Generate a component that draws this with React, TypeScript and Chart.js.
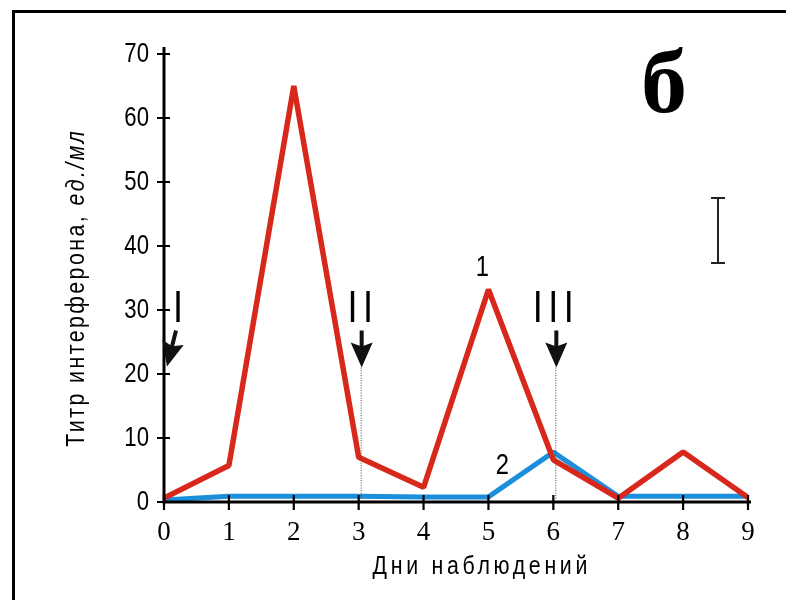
import React, { useEffect, useRef } from "react";
import { Chart, registerables } from "chart.js";

Chart.register(...registerables);

// ---- data ----
const days = [0, 1, 2, 3, 4, 5, 6, 7, 8, 9];
const series1 = [0.6, 5.7, 65, 7.0, 2.3, 33.2, 6.6, 0.6, 7.8, 0.7];
const series2 = [0.3, 0.9, 0.9, 0.9, 0.8, 0.8, 7.8, 0.9, 0.9, 0.9];
const seriesNames = ["1", "2"];
const yTicks = [0, 10, 20, 30, 40, 50, 60, 70];
const xTicks = [0, 1, 2, 3, 4, 5, 6, 7, 8, 9];
const interventionDays = [0, 3, 6];
const interventionLabels = ["I", "II", "III"];
const panelLetter = "б";
const yTitleMain = "Титр интерферона, ";
const yTitleUnit = "ед./мл";
const xTitle = "Дни наблюдений";

const RED = "#d8281c";
const BLUE = "#1b8fdb";
const SANS = "'Liberation Sans', Arial, sans-serif";
const SERIF = "'Liberation Serif', 'DejaVu Serif', serif";
const SX = 0.82; // horizontal condensing to imitate a narrow face

function narrowText(
  ctx: CanvasRenderingContext2D,
  text: string,
  x: number,
  y: number,
  font: string,
  align: "left" | "center" | "right",
  spacing = 0,
  baseline: CanvasTextBaseline = "alphabetic"
) {
  ctx.save();
  ctx.translate(x, y);
  ctx.scale(SX, 1);
  ctx.font = font;
  (ctx as any).letterSpacing = `${spacing}px`;
  ctx.textAlign = "left";
  ctx.textBaseline = baseline;
  const w = ctx.measureText(text).width - spacing;
  const off = align === "left" ? 0 : align === "center" ? -w / 2 : -w;
  ctx.fillText(text, off, 0);
  ctx.restore();
  return w * SX;
}

const decorPlugin = {
  id: "decor",
  afterDraw(chart: any) {
    const ctx = chart.ctx as CanvasRenderingContext2D;
    const xs = chart.scales.x;
    const ys = chart.scales.y;
    const area = chart.chartArea;
    ctx.save();

    // frame (top and left edges visible)
    ctx.strokeStyle = "#000";
    ctx.lineWidth = 3;
    ctx.beginPath();
    ctx.moveTo(13.5, 700);
    ctx.lineTo(13.5, 11.5);
    ctx.lineTo(900, 11.5);
    ctx.stroke();

    // axes
    ctx.lineWidth = 3;
    ctx.beginPath();
    ctx.moveTo(area.left, area.top - 7);
    ctx.lineTo(area.left, area.bottom + 1.5);
    ctx.moveTo(area.left - 1.5, area.bottom);
    ctx.lineTo(area.right + 3, area.bottom);
    ctx.stroke();
    ctx.lineWidth = 2.2;
    ctx.beginPath();
    yTicks.forEach((v) => {
      const y = ys.getPixelForValue(v);
      ctx.moveTo(area.left - 7, y);
      ctx.lineTo(area.left + 6, y);
    });
    xTicks.forEach((v) => {
      const x = xs.getPixelForValue(v);
      ctx.moveTo(x, area.bottom - 7);
      ctx.lineTo(x, area.bottom + 8);
    });
    ctx.stroke();

    ctx.fillStyle = "#000";
    // y tick labels
    ys.ticks.forEach((t: any) => {
      narrowText(ctx, String(t.value), area.left - 15, ys.getPixelForValue(t.value) + 1, `27px ${SANS}`, "right", 0, "middle");
    });

    // y title (regular + italic unit)
    ctx.save();
    ctx.translate(84, 289);
    ctx.rotate(-Math.PI / 2);
    ctx.font = `26px ${SANS}`;
    (ctx as any).letterSpacing = "3px";
    const w1 = ctx.measureText(yTitleMain).width * SX;
    ctx.font = `italic 26px ${SANS}`;
    const w2 = (ctx.measureText(yTitleUnit).width - 3) * SX;
    const start = -(w1 + w2) / 2;
    narrowText(ctx, yTitleMain, start, 0, `26px ${SANS}`, "left", 3);
    narrowText(ctx, yTitleUnit, start + w1, 0, `italic 26px ${SANS}`, "left", 3);
    ctx.restore();

    // x title
    narrowText(ctx, xTitle, 480, 574, `26px ${SANS}`, "center", 4.5);

    // panel letter
    (ctx as any).letterSpacing = "0px";
    ctx.font = `bold 92px ${SERIF}`;
    ctx.textAlign = "left";
    ctx.textBaseline = "alphabetic";
    ctx.fillText(panelLetter, 641, 112);

    // error bar
    ctx.strokeStyle = "#222";
    ctx.lineWidth = 2;
    ctx.beginPath();
    ctx.moveTo(718, 198);
    ctx.lineTo(718, 263);
    ctx.moveTo(711, 198);
    ctx.lineTo(725, 198);
    ctx.moveTo(711, 263);
    ctx.lineTo(725, 263);
    ctx.stroke();

    // series labels
    narrowText(ctx, seriesNames[0], xs.getPixelForValue(5) - 6, ys.getPixelForValue(36.6), `29px ${SANS}`, "center", 0, "middle");
    narrowText(ctx, seriesNames[1], xs.getPixelForValue(5) + 14, ys.getPixelForValue(5.6), `29px ${SANS}`, "center", 0, "middle");

    // interventions
    const labelBase = ys.getPixelForValue(28.1);
    const tipY = ys.getPixelForValue(21);
    const tailY = ys.getPixelForValue(26.8);
    interventionDays.forEach((d, i) => {
      const px = xs.getPixelForValue(d);
      const label = interventionLabels[i];
      const lx = i === 0 ? px + 14 : px + (i === 1 ? 1.5 : 0);
      ctx.fillStyle = "#000";
      narrowText(ctx, label, lx, labelBase, `44px ${SANS}`, "center", 6.7);

      // arrow
      let tx: number, ty: number, sx: number, sy: number;
      if (i === 0) {
        tx = px + 3; ty = tipY - 1;
        sx = px + 12; sy = tailY;
      } else {
        tx = px + 3; ty = tipY;
        sx = px + 3; sy = tailY;
      }
      const dx = tx - sx, dy = ty - sy;
      const len = Math.hypot(dx, dy);
      const ux = dx / len, uy = dy / len;
      const headLen = 25, headHalf = 11;
      const bx = tx - ux * headLen, by = ty - uy * headLen;
      ctx.strokeStyle = "#111";
      ctx.fillStyle = "#111";
      ctx.lineWidth = 4;
      ctx.beginPath();
      ctx.moveTo(sx, sy);
      ctx.lineTo(bx + ux * 8, by + uy * 8);
      ctx.stroke();
      ctx.beginPath();
      ctx.moveTo(tx, ty);
      ctx.lineTo(bx - uy * headHalf, by + ux * headHalf);
      ctx.lineTo(bx + ux * 4, by + uy * 4);
      ctx.lineTo(bx + uy * headHalf, by - ux * headHalf);
      ctx.closePath();
      ctx.fill();

      // dotted guide
      if (i > 0) {
        ctx.strokeStyle = "#444";
        ctx.lineWidth = 1;
        ctx.setLineDash([1, 1.5]);
        ctx.beginPath();
        ctx.moveTo(px + 2.5, ty);
        ctx.lineTo(px + 2.5, area.bottom - 2);
        ctx.stroke();
        ctx.setLineDash([]);
      }
    });

    ctx.restore();
  },
};

export default function App() {
  const ref = useRef<HTMLCanvasElement | null>(null);
  useEffect(() => {
    document.body.style.margin = "0";
    document.body.style.overflow = "hidden";
    const canvas = ref.current;
    if (!canvas) return;
    const chart = new Chart(canvas, {
      type: "line",
      data: {
        datasets: [
          {
            label: seriesNames[0],
            data: days.map((d, i) => ({ x: d, y: series1[i] })),
            borderColor: RED,
            borderWidth: 5.5,
            borderJoinStyle: "bevel",
            pointRadius: 0,
            tension: 0,
            fill: false,
          },
          {
            label: seriesNames[1],
            data: days.map((d, i) => ({ x: d, y: series2[i] })),
            borderColor: BLUE,
            borderWidth: 5,
            borderJoinStyle: "bevel",
            pointRadius: 0,
            tension: 0,
            fill: false,
          },
        ],
      },
      options: {
        animation: false,
        responsive: false,
        events: [],
        layout: { padding: { top: 54, right: 38, left: 0, bottom: 0 } },
        plugins: { legend: { display: false }, tooltip: { enabled: false }, title: { display: false } },
        scales: {
          x: {
            type: "linear",
            min: 0,
            max: 9,
            afterBuildTicks: (s: any) => {
              s.ticks = xTicks.map((v) => ({ value: v }));
            },
            afterFit: (s: any) => {
              s.height = 98;
            },
            grid: { display: false, drawTicks: false },
            border: { display: false },
            ticks: {
              color: "#000",
              padding: 15,
              maxRotation: 0,
              autoSkip: false,
              font: { family: SERIF, size: 27 },
              callback: (v: any) => String(v),
            },
          },
          y: {
            type: "linear",
            min: 0,
            max: 70,
            afterBuildTicks: (s: any) => {
              s.ticks = yTicks.map((v) => ({ value: v }));
            },
            afterFit: (s: any) => {
              s.width = 164;
            },
            grid: { display: false, drawTicks: false },
            border: { display: false },
            ticks: { display: false },
          },
        },
      },
      plugins: [decorPlugin],
    } as any);
    return () => chart.destroy();
  }, []);
  return (
    <div style={{ width: 786, height: 600, background: "#fff", overflow: "hidden" }}>
      <canvas ref={ref} width={786} height={600} style={{ display: "block" }} />
    </div>
  );
}
